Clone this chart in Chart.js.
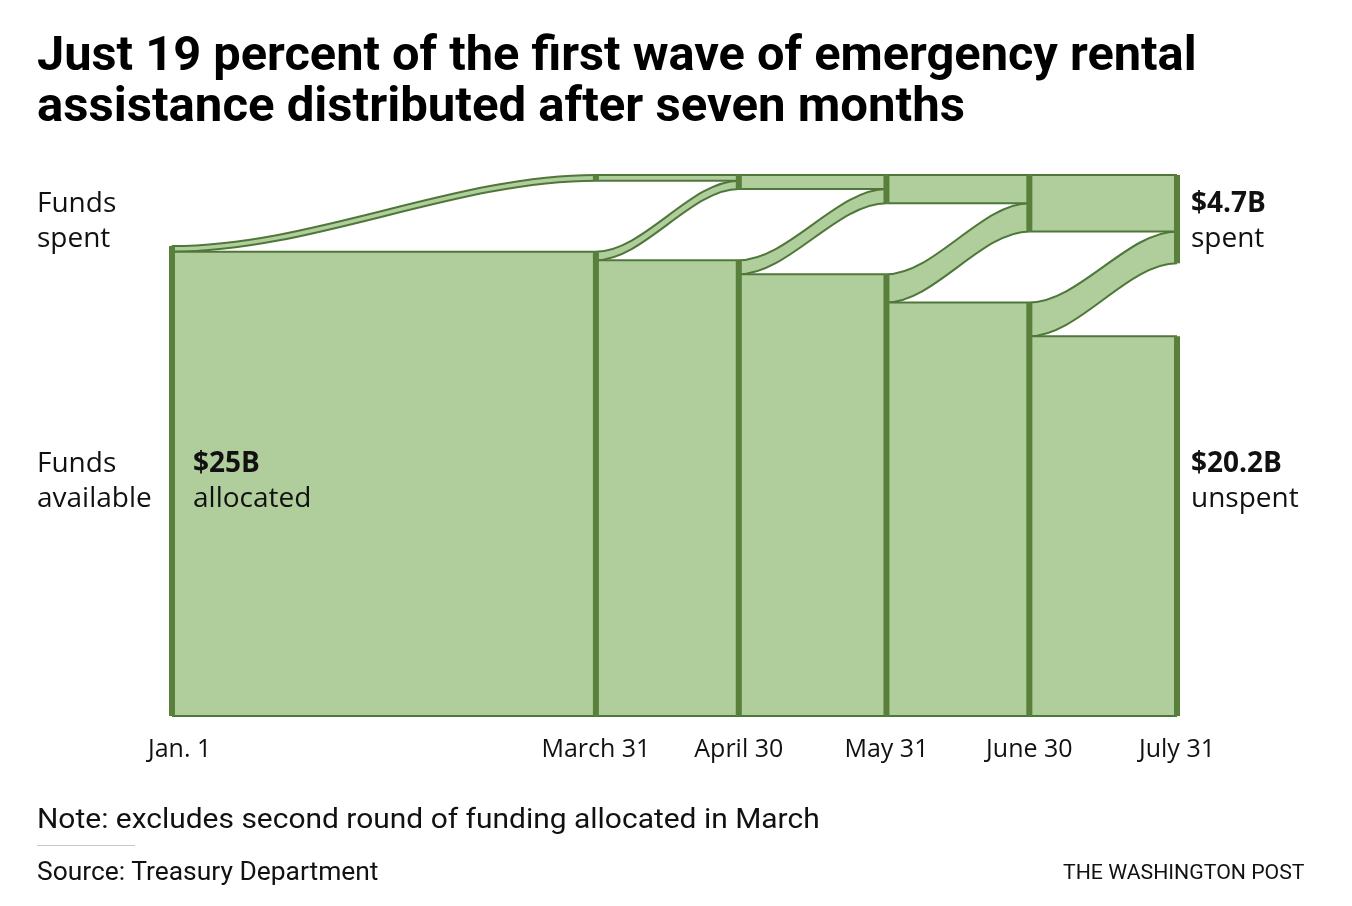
<!DOCTYPE html>
<html>
<head>
<meta charset="utf-8">
<script src="https://cdn.jsdelivr.net/npm/chart.js@4.4.1/dist/chart.umd.min.js"></script>
<style>
  body { margin: 0; background: #fff; }
  #page { position: relative; width: 1352px; height: 906px; overflow: hidden; font-family: Roboto, sans-serif; color: #111; }
  #chart { position: absolute; left: 0; top: 0; }
  .fit { position: absolute; white-space: nowrap; transform-origin: 0 0; display: inline-block; }
  .t { left: 37px; font-weight: 700; font-size: 48px; line-height: 51px; color: #000; }
  #note { left: 37px; top: 805px; font-size: 28px; line-height: 28px; }
  #rule { position: absolute; left: 37px; top: 845px; width: 98px; height: 1px; background: #c8c8c8; }
  #source { left: 37px; top: 859px; font-size: 25px; line-height: 25px; }
  #credit { left: 1063px; top: 862px; font-size: 21px; line-height: 21px; }
</style>
</head>
<body>
<div id="page">
  <canvas id="chart" width="1352" height="906"></canvas>
  <div class="fit t" id="t1" style="top:28px">Just 19 percent of the first wave of emergency rental</div>
  <div class="fit t" id="t2" style="top:79px">assistance distributed after seven months</div>
  <div class="fit" id="note">Note: excludes second round of funding allocated in March</div>
  <div id="rule"></div>
  <div class="fit" id="source">Source: Treasury Department</div>
  <div class="fit" id="credit">THE WASHINGTON POST</div>
</div>
<script>
// days since Jan. 1 for each snapshot
const days = [0, 89, 119, 150, 180, 211];
const dateLabels = ['Jan. 1', 'March 31', 'April 30', 'May 31', 'June 30', 'July 31'];
// billions of dollars
const spent = [0, 0.3, 0.75, 1.5, 3.0, 4.7];
const available = [25, 24.7, 24.25, 23.5, 22.0, 20.2];

// top of the y axis: room for the spent stack above the available stack
const TOP = 28.78;
const fillGreen = '#b0cd9c';
const edge = '#4f7739';
const nodeGreen = '#587f3b';

const datasets = [];
function addLine(points, extra) {
  datasets.push(Object.assign({
    data: points,
    borderColor: edge,
    borderWidth: 2,
    pointRadius: 0,
    fill: false,
    clip: false,
    order: 2
  }, extra));
  return datasets.length - 1;
}

const eps = 0.05;
for (let i = 0; i < days.length - 1; i++) {
  // money spent during the period flows from the available stack up to the spent stack
  const lo = addLine([
    {x: days[i] - eps, y: available[i + 1]}, {x: days[i], y: available[i + 1]},
    {x: days[i + 1], y: TOP - spent[i + 1]}, {x: days[i + 1] + eps, y: TOP - spent[i + 1]}
  ], {cubicInterpolationMode: 'monotone', order: 3});
  addLine([
    {x: days[i] - eps, y: available[i]}, {x: days[i], y: available[i]},
    {x: days[i + 1], y: TOP - spent[i]}, {x: days[i + 1] + eps, y: TOP - spent[i]}
  ], {cubicInterpolationMode: 'monotone', order: 3, fill: lo, backgroundColor: fillGreen});

  // what stays available
  addLine([{x: days[i], y: available[i + 1]}, {x: days[i + 1], y: available[i + 1]}],
    {fill: 'origin', backgroundColor: fillGreen});

  // what was already spent
  if (spent[i] > 0) {
    addLine([{x: days[i], y: TOP - spent[i]}, {x: days[i + 1], y: TOP - spent[i]}],
      {fill: 'end', backgroundColor: fillGreen});
  }
}
// outer edges
const last = days.length - 1;
addLine([{x: days[0], y: 0}, {x: days[last], y: 0}], {order: 1});
addLine([{x: days[1], y: TOP}, {x: days[last], y: TOP}], {order: 1});

// dark node bars
for (let i = 0; i < days.length; i++) {
  addLine([{x: days[i], y: 0}, {x: days[i], y: available[i]}],
    {borderColor: nodeGreen, borderWidth: 6, borderCapStyle: 'butt', borderJoinStyle: 'bevel', order: 0});
  if (spent[i] > 0) {
    addLine([{x: days[i], y: TOP - spent[i]}, {x: days[i], y: TOP}],
      {borderColor: nodeGreen, borderWidth: 6, borderCapStyle: 'butt', borderJoinStyle: 'bevel', order: 0});
  }
}

const textPlugin = {
  id: 'texts',
  afterDraw(chart) {
    const {ctx, scales: {x}} = chart;
    const reg = '28px "Open Sans", sans-serif';
    const bold = 'bold 28px "Open Sans", sans-serif';
    ctx.save();
    ctx.fillStyle = '#111';
    ctx.textBaseline = 'alphabetic';

    ctx.font = '25px "Open Sans", sans-serif';
    days.forEach((d, i) => {
      ctx.textAlign = i === 0 ? 'left' : 'center';
      ctx.fillText(dateLabels[i], x.getPixelForValue(d) - (i === 0 ? 24 : 0), 757);
    });

    ctx.textAlign = 'left';
    ctx.font = reg;
    ctx.fillText('Funds', 37, 212);
    ctx.fillText('spent', 37, 247);
    ctx.fillText('Funds', 37, 472);
    ctx.fillText('available', 37, 507);

    const x0 = x.getPixelForValue(days[0]) + 21;
    ctx.font = bold;
    ctx.fillText('$' + available[0] + 'B', x0, 472);
    ctx.font = reg;
    ctx.fillText('allocated', x0, 507);

    const x1 = x.getPixelForValue(days[last]) + 14;
    ctx.font = bold;
    ctx.fillText('$' + spent[last] + 'B', x1, 212);
    ctx.fillText('$' + available[last] + 'B', x1, 472);
    ctx.font = reg;
    ctx.fillText('spent', x1, 247);
    ctx.fillText('unspent', x1, 507);
    ctx.restore();
  }
};

new Chart(document.getElementById('chart').getContext('2d'), {
  type: 'line',
  data: {datasets: datasets},
  options: {
    responsive: false,
    animation: false,
    events: [],
    layout: {padding: {left: 172, right: 175, top: 175, bottom: 190}},
    plugins: {legend: {display: false}, tooltip: {enabled: false}},
    scales: {
      x: {type: 'linear', min: days[0], max: days[last], display: false},
      y: {min: 0, max: TOP, display: false}
    }
  },
  plugins: [textPlugin]
});

function fit(id, w) {
  const el = document.getElementById(id);
  el.style.transform = 'scaleX(' + (w / el.offsetWidth) + ')';
}
document.fonts.ready.then(() => {
  fit('t1', 1160);
  fit('t2', 928);
  fit('note', 783);
  fit('source', 341);
  fit('credit', 242);
});
</script>
</body>
</html>
